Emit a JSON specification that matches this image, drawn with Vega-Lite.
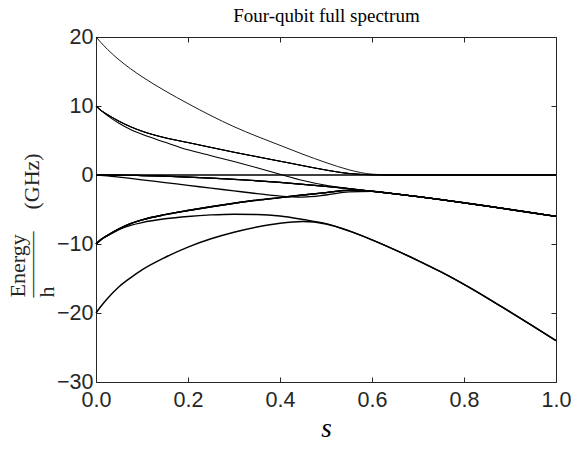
{
  "$schema": "https://vega.github.io/schema/vega-lite/v6.json",
  "width": 460,
  "height": 345,
  "autosize": {"type": "none"},
  "padding": {"left": 96, "top": 37, "right": 18, "bottom": 67},
  "background": "white",
  "data": {"values": [
    {"s": 0, "L1": 20, "U1": 10, "U2": 10, "U3": 10, "L5": 10, "Z1": 0, "Z2": 0, "A1": 0, "A2": 0, "A3": 0, "L11": 0, "D1": -10, "D2": -10, "D3": -10, "L15": -10, "G": -20},
    {"s": 0.01, "L1": 19.25, "U1": 9.4, "U2": 9.4, "U3": 9.4, "L5": 9.4, "Z1": 0, "Z2": 0, "A1": 0, "A2": 0, "A3": 0, "L11": -0.04, "D1": -9.4, "D2": -9.4, "D3": -9.4, "L15": -9.4, "G": -19.1},
    {"s": 0.025, "L1": 18.2, "U1": 8.75, "U2": 8.75, "U3": 8.75, "L5": 8.6, "Z1": 0, "Z2": 0, "A1": -0.01, "A2": -0.01, "A3": -0.01, "L11": -0.12, "D1": -8.75, "D2": -8.75, "D3": -8.75, "L15": -8.8, "G": -17.9},
    {"s": 0.05, "L1": 16.7, "U1": 7.8, "U2": 7.8, "U3": 7.8, "L5": 7.5, "Z1": 0, "Z2": 0, "A1": -0.03, "A2": -0.03, "A3": -0.03, "L11": -0.3, "D1": -7.8, "D2": -7.8, "D3": -7.8, "L15": -7.9, "G": -16.2},
    {"s": 0.075, "L1": 15.4, "U1": 7.0, "U2": 7.0, "U3": 7.0, "L5": 6.6, "Z1": 0, "Z2": 0, "A1": -0.05, "A2": -0.05, "A3": -0.05, "L11": -0.5, "D1": -7.05, "D2": -7.05, "D3": -7.05, "L15": -7.3, "G": -14.9},
    {"s": 0.1, "L1": 14.25, "U1": 6.35, "U2": 6.35, "U3": 6.35, "L5": 5.9, "Z1": 0, "Z2": 0, "A1": -0.08, "A2": -0.08, "A3": -0.08, "L11": -0.7, "D1": -6.5, "D2": -6.5, "D3": -6.5, "L15": -6.9, "G": -13.75},
    {"s": 0.15, "L1": 12.2, "U1": 5.4, "U2": 5.4, "U3": 5.4, "L5": 4.75, "Z1": 0, "Z2": 0, "A1": -0.17, "A2": -0.17, "A3": -0.17, "L11": -1.1, "D1": -5.75, "D2": -5.75, "D3": -5.75, "L15": -6.35, "G": -11.95},
    {"s": 0.2, "L1": 10.35, "U1": 4.7, "U2": 4.7, "U3": 4.7, "L5": 3.65, "Z1": 0, "Z2": 0, "A1": -0.3, "A2": -0.3, "A3": -0.3, "L11": -1.5, "D1": -5.15, "D2": -5.15, "D3": -5.15, "L15": -6.0, "G": -10.45},
    {"s": 0.25, "L1": 8.6, "U1": 4.0, "U2": 4.0, "U3": 4.0, "L5": 2.8, "Z1": 0, "Z2": 0, "A1": -0.45, "A2": -0.45, "A3": -0.45, "L11": -1.9, "D1": -4.6, "D2": -4.6, "D3": -4.6, "L15": -5.78, "G": -9.25},
    {"s": 0.3, "L1": 7.0, "U1": 3.3, "U2": 3.3, "U3": 3.3, "L5": 1.95, "Z1": 0, "Z2": 0, "A1": -0.62, "A2": -0.62, "A3": -0.62, "L11": -2.3, "D1": -4.1, "D2": -4.1, "D3": -4.1, "L15": -5.68, "G": -8.3},
    {"s": 0.35, "L1": 5.6, "U1": 2.65, "U2": 2.65, "U3": 2.65, "L5": 1.05, "Z1": 0, "Z2": 0, "A1": -0.84, "A2": -0.84, "A3": -0.84, "L11": -2.7, "D1": -3.65, "D2": -3.65, "D3": -3.65, "L15": -5.72, "G": -7.55},
    {"s": 0.4, "L1": 4.3, "U1": 2.0, "U2": 2.0, "U3": 2.0, "L5": 0.1, "Z1": 0, "Z2": 0, "A1": -1.08, "A2": -1.08, "A3": -1.08, "L11": -3.05, "D1": -3.28, "D2": -3.28, "D3": -3.28, "L15": -5.95, "G": -7.0},
    {"s": 0.45, "L1": 3.0, "U1": 1.35, "U2": 1.35, "U3": 1.35, "L5": -0.8, "Z1": 0, "Z2": 0, "A1": -1.35, "A2": -1.35, "A3": -1.35, "L11": -3.2, "D1": -2.9, "D2": -2.9, "D3": -2.9, "L15": -6.45, "G": -6.75},
    {"s": 0.5, "L1": 1.8, "U1": 0.72, "U2": 0.72, "U3": 0.72, "L5": -1.5, "Z1": 0, "Z2": 0, "A1": -1.65, "A2": -1.65, "A3": -1.65, "L11": -2.9, "D1": -2.55, "D2": -2.55, "D3": -2.55, "L15": -7.05, "G": -7.1},
    {"s": 0.55, "L1": 0.75, "U1": 0.22, "U2": 0.22, "U3": 0.22, "L5": -1.98, "Z1": 0, "Z2": 0, "A1": -1.98, "A2": -1.98, "A3": -1.98, "L11": -2.45, "D1": -2.22, "D2": -2.22, "D3": -2.22, "L15": -8.1, "G": -8.1},
    {"s": 0.6, "L1": 0.12, "U1": 0.03, "U2": 0.03, "U3": 0.03, "L5": -2.35, "Z1": 0, "Z2": 0, "A1": -2.35, "A2": -2.35, "A3": -2.35, "L11": -2.38, "D1": -2.37, "D2": -2.37, "D3": -2.37, "L15": -9.4, "G": -9.4},
    {"s": 0.65, "L1": 0, "U1": 0, "U2": 0, "U3": 0, "L5": -2.73, "Z1": 0, "Z2": 0, "A1": -2.73, "A2": -2.73, "A3": -2.73, "L11": -2.73, "D1": -2.73, "D2": -2.73, "D3": -2.73, "L15": -10.85, "G": -10.85},
    {"s": 0.7, "L1": 0, "U1": 0, "U2": 0, "U3": 0, "L5": -3.13, "Z1": 0, "Z2": 0, "A1": -3.13, "A2": -3.13, "A3": -3.13, "L11": -3.13, "D1": -3.13, "D2": -3.13, "D3": -3.13, "L15": -12.4, "G": -12.4},
    {"s": 0.75, "L1": 0, "U1": 0, "U2": 0, "U3": 0, "L5": -3.57, "Z1": 0, "Z2": 0, "A1": -3.57, "A2": -3.57, "A3": -3.57, "L11": -3.57, "D1": -3.57, "D2": -3.57, "D3": -3.57, "L15": -14.05, "G": -14.05},
    {"s": 0.8, "L1": 0, "U1": 0, "U2": 0, "U3": 0, "L5": -4.03, "Z1": 0, "Z2": 0, "A1": -4.03, "A2": -4.03, "A3": -4.03, "L11": -4.03, "D1": -4.03, "D2": -4.03, "D3": -4.03, "L15": -15.85, "G": -15.85},
    {"s": 0.85, "L1": 0, "U1": 0, "U2": 0, "U3": 0, "L5": -4.5, "Z1": 0, "Z2": 0, "A1": -4.5, "A2": -4.5, "A3": -4.5, "L11": -4.5, "D1": -4.5, "D2": -4.5, "D3": -4.5, "L15": -17.8, "G": -17.8},
    {"s": 0.9, "L1": 0, "U1": 0, "U2": 0, "U3": 0, "L5": -5.0, "Z1": 0, "Z2": 0, "A1": -5.0, "A2": -5.0, "A3": -5.0, "L11": -5.0, "D1": -5.0, "D2": -5.0, "D3": -5.0, "L15": -19.85, "G": -19.85},
    {"s": 0.95, "L1": 0, "U1": 0, "U2": 0, "U3": 0, "L5": -5.5, "Z1": 0, "Z2": 0, "A1": -5.5, "A2": -5.5, "A3": -5.5, "L11": -5.5, "D1": -5.5, "D2": -5.5, "D3": -5.5, "L15": -21.9, "G": -21.9},
    {"s": 1.0, "L1": 0, "U1": 0, "U2": 0, "U3": 0, "L5": -6.0, "Z1": 0, "Z2": 0, "A1": -6.0, "A2": -6.0, "A3": -6.0, "L11": -6.0, "D1": -6.0, "D2": -6.0, "D3": -6.0, "L15": -24.0, "G": -24.0}
  ]},
  "transform": [
    {"fold": ["L1", "U1", "U2", "U3", "L5", "Z1", "Z2", "A1", "A2", "A3", "L11", "D1", "D2", "D3", "L15", "G"], "as": ["k", "E"]}
  ],
  "config": {"view": {"stroke": null}, "axis": {"grid": false}},
  "layer": [
    {
      "mark": {"type": "line", "color": "black", "interpolate": "monotone"},
      "encoding": {
        "x": {"field": "s", "type": "quantitative", "scale": {"domain": [0, 1], "nice": false, "zero": false},
          "axis": {"orient": "bottom", "values": [0, 0.2, 0.4, 0.6, 0.8, 1], "format": ".1f", "tickSize": -5, "labelPadding": 12, "labelFlush": false,
            "labelFont": "Liberation Sans", "labelFontSize": 21.5, "labelColor": "#262626", "domainColor": "#262626", "tickColor": "#262626",
            "title": "s", "titleFont": "Liberation Serif", "titleFontStyle": "italic", "titleFontWeight": "normal", "titleFontSize": 27, "titleColor": "black",
            "titleBaseline": "alphabetic", "titleY": 54}},
        "y": {"field": "E", "type": "quantitative", "scale": {"domain": [-30, 20], "nice": false, "zero": false},
          "axis": {"orient": "left", "values": [-30, -20, -10, 0, 10, 20], "format": "d", "tickSize": -5, "labelPadding": 8, "labelFlush": false,
            "labelFont": "Liberation Sans", "labelFontSize": 21.5, "labelColor": "#262626", "domainColor": "#262626", "tickColor": "#262626",
            "title": ["Energy", "———\u2003(GHz)", "\u2003\u2002h"], "titleFont": "Liberation Serif", "titleFontWeight": "normal", "titleFontSize": 22, "titleColor": "#262626",
            "titleAngle": 270, "titleAlign": "left", "titleBaseline": "middle", "titleLineHeight": 14.5, "titleX": -79, "titleY": 260}},
        "detail": {"field": "k", "type": "nominal"},
        "strokeWidth": {"field": "k", "type": "nominal", "legend": null,
          "scale": {"domain": ["L1", "U1", "U2", "U3", "L5", "Z1", "Z2", "A1", "A2", "A3", "L11", "D1", "D2", "D3", "L15", "G"],
                    "range": [0.9, 1.5, 1.5, 1.5, 0.9, 1.5, 1.5, 1.5, 1.5, 1.5, 0.9, 1.5, 1.5, 1.5, 0.9, 0.9]}}
      }
    },
    {
      "mark": {"type": "line", "opacity": 0},
      "encoding": {
        "x": {"field": "s", "type": "quantitative",
          "axis": {"orient": "top", "values": [0, 0.2, 0.4, 0.6, 0.8, 1], "tickSize": -5, "labels": false, "domainColor": "#262626", "tickColor": "#262626",
            "title": "Four-qubit full spectrum", "titleFont": "Liberation Serif", "titleFontSize": 19, "titleFontWeight": "normal", "titleColor": "black",
            "titleAlign": "center", "titleBaseline": "alphabetic", "titleX": 230, "titleY": -16}},
        "y": {"field": "E", "type": "quantitative",
          "axis": {"orient": "right", "values": [-30, -20, -10, 0, 10, 20], "tickSize": -5, "labels": false, "title": null, "domainColor": "#262626", "tickColor": "#262626"}},
        "detail": {"field": "k", "type": "nominal"}
      }
    }
  ],
  "resolve": {"axis": {"x": "independent", "y": "independent"}}
}
